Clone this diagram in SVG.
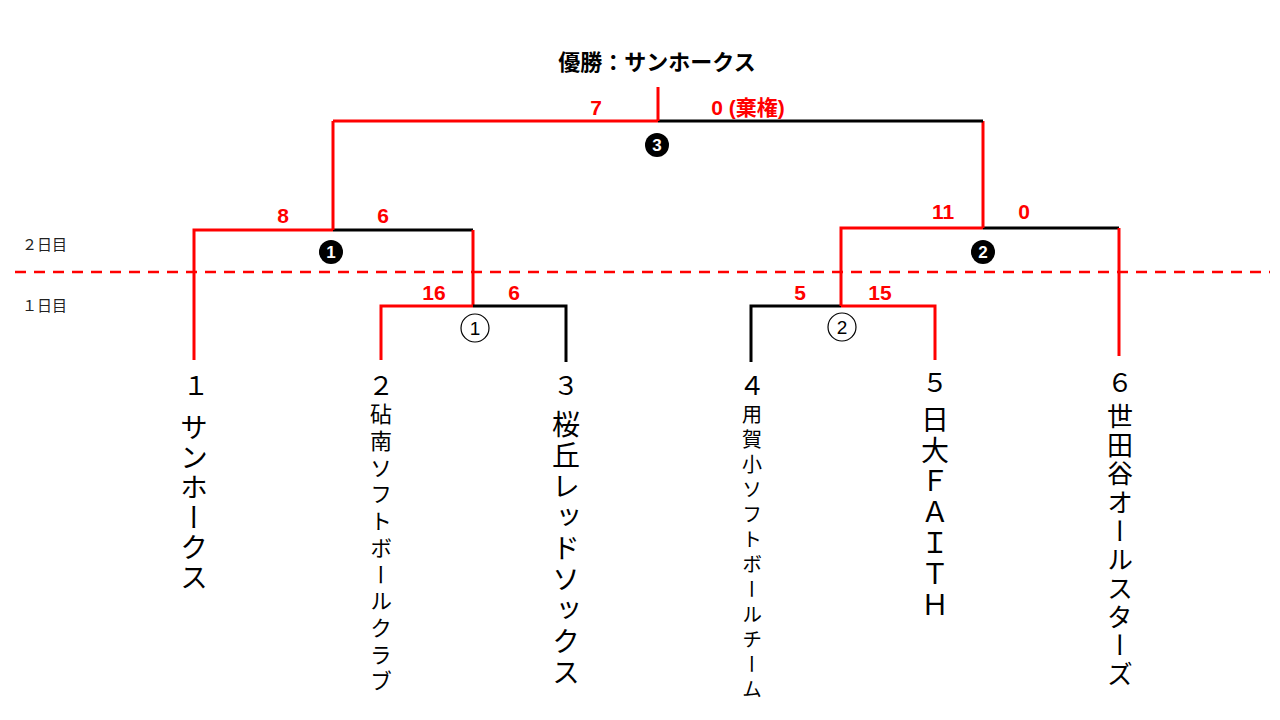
<svg xmlns="http://www.w3.org/2000/svg" width="1280" height="720" viewBox="0 0 1280 720">
<style>
.r{stroke:#ff0000;stroke-width:3;fill:none}
.k{stroke:#000;stroke-width:3;fill:none}
.s{fill:#ff0000;font:bold 21px "Liberation Sans","Noto Sans CJK JP",sans-serif;text-anchor:middle}
.n{font-family:"Noto Sans CJK JP",sans-serif;text-anchor:middle;fill:#000}
.v{font-family:"Noto Sans CJK JP",sans-serif;writing-mode:vertical-rl;text-orientation:upright;fill:#000}
.d{font:15px "Noto Sans CJK JP",sans-serif;fill:#222}
.bc{fill:#000}
.bt{fill:#fff;font:bold 17px "Liberation Sans",sans-serif;text-anchor:middle}
</style>
<rect width="1280" height="720" fill="#fff"/>
<text x="657" y="70" text-anchor="middle" style="font:bold 22px 'Noto Sans CJK JP',sans-serif">優勝：サンホークス</text>
<line x1="15" y1="272" x2="1270" y2="272" stroke="#ff0000" stroke-width="2.5" stroke-dasharray="11,8"/>
<text class="d" x="22" y="250">２日目</text>
<text class="d" x="22" y="311">１日目</text>
<g id="connectors">
<polyline class="r" points="194,360 194,230 333,230"/>
<line class="k" x1="333" y1="230" x2="473" y2="230"/>
<line class="r" x1="333" y1="230" x2="333" y2="121"/>
<line class="r" x1="473" y1="230" x2="473" y2="306"/>
<polyline class="r" points="381,360 381,306 473,306"/>
<polyline class="k" points="473,306 566,306 566,362"/>
<polyline class="k" points="751,362 751,306 841,306"/>
<polyline class="r" points="841,306 935,306 935,360"/>
<polyline class="r" points="841,306 841,228 983,228"/>
<polyline class="k" points="983,228 1119,228"/>
<line class="r" x1="1119" y1="228" x2="1119" y2="356"/>
<line class="r" x1="983" y1="228" x2="983" y2="121"/>
<line class="r" x1="333" y1="121" x2="658" y2="121"/>
<line class="k" x1="658" y1="121" x2="983" y2="121"/>
<line class="r" x1="658" y1="121" x2="658" y2="87"/>
</g>
<g id="scores">
<text class="s" x="596" y="115">7</text>
<text class="s" x="748" y="115">0 (棄権)</text>
<text class="s" x="283" y="223">8</text>
<text class="s" x="383" y="223">6</text>
<text class="s" x="943" y="219">11</text>
<text class="s" x="1024" y="219">0</text>
<text class="s" x="434" y="300">16</text>
<text class="s" x="514" y="300">6</text>
<text class="s" x="800" y="300">5</text>
<text class="s" x="880" y="300">15</text>
</g>
<g id="m3"><circle class="bc" cx="657" cy="145" r="12"/><text class="bt" x="657" y="151">3</text></g>
<g id="m1b"><circle class="bc" cx="331" cy="252" r="12"/><text class="bt" x="331" y="258">1</text></g>
<g id="m2b"><circle class="bc" cx="983" cy="252" r="12"/><text class="bt" x="983" y="258">2</text></g>
<g id="m1"><circle cx="475" cy="328" r="14" fill="#fff" stroke="#000" stroke-width="1.2"/><text x="475" y="335" text-anchor="middle" style="font:19px 'Liberation Sans',sans-serif">1</text></g>
<g id="m2"><circle cx="842" cy="327" r="14" fill="#fff" stroke="#000" stroke-width="1.2"/><text x="842" y="334" text-anchor="middle" style="font:19px 'Liberation Sans',sans-serif">2</text></g>
<g id="t1"><text class="n" x="196" y="395" font-size="26">１</text><text class="v" x="194" y="413" font-size="28" letter-spacing="2">サンホークス</text></g>
<g id="t2"><text class="n" x="381" y="395" font-size="26">２</text><text class="v" x="381" y="403" font-size="22" letter-spacing="4.7">砧南ソフトボールクラブ</text></g>
<g id="t3"><text class="n" x="566" y="395" font-size="26">３</text><text class="v" x="566" y="410" font-size="28" letter-spacing="3">桜丘レッドソックス</text></g>
<g id="t4"><text class="n" x="752" y="395" font-size="26">４</text><text class="v" x="752" y="404" font-size="20" letter-spacing="5">用賀小ソフトボールチーム</text></g>
<g id="t5"><text class="n" x="935" y="392" font-size="26">５</text><text class="v" x="935" y="405" font-size="28" letter-spacing="3">日大ＦＡＩＴＨ</text></g>
<g id="t6"><text class="n" x="1120" y="392" font-size="26">６</text><text class="v" x="1120" y="403" font-size="26" letter-spacing="2.7">世田谷オールスターズ</text></g>
</svg>
